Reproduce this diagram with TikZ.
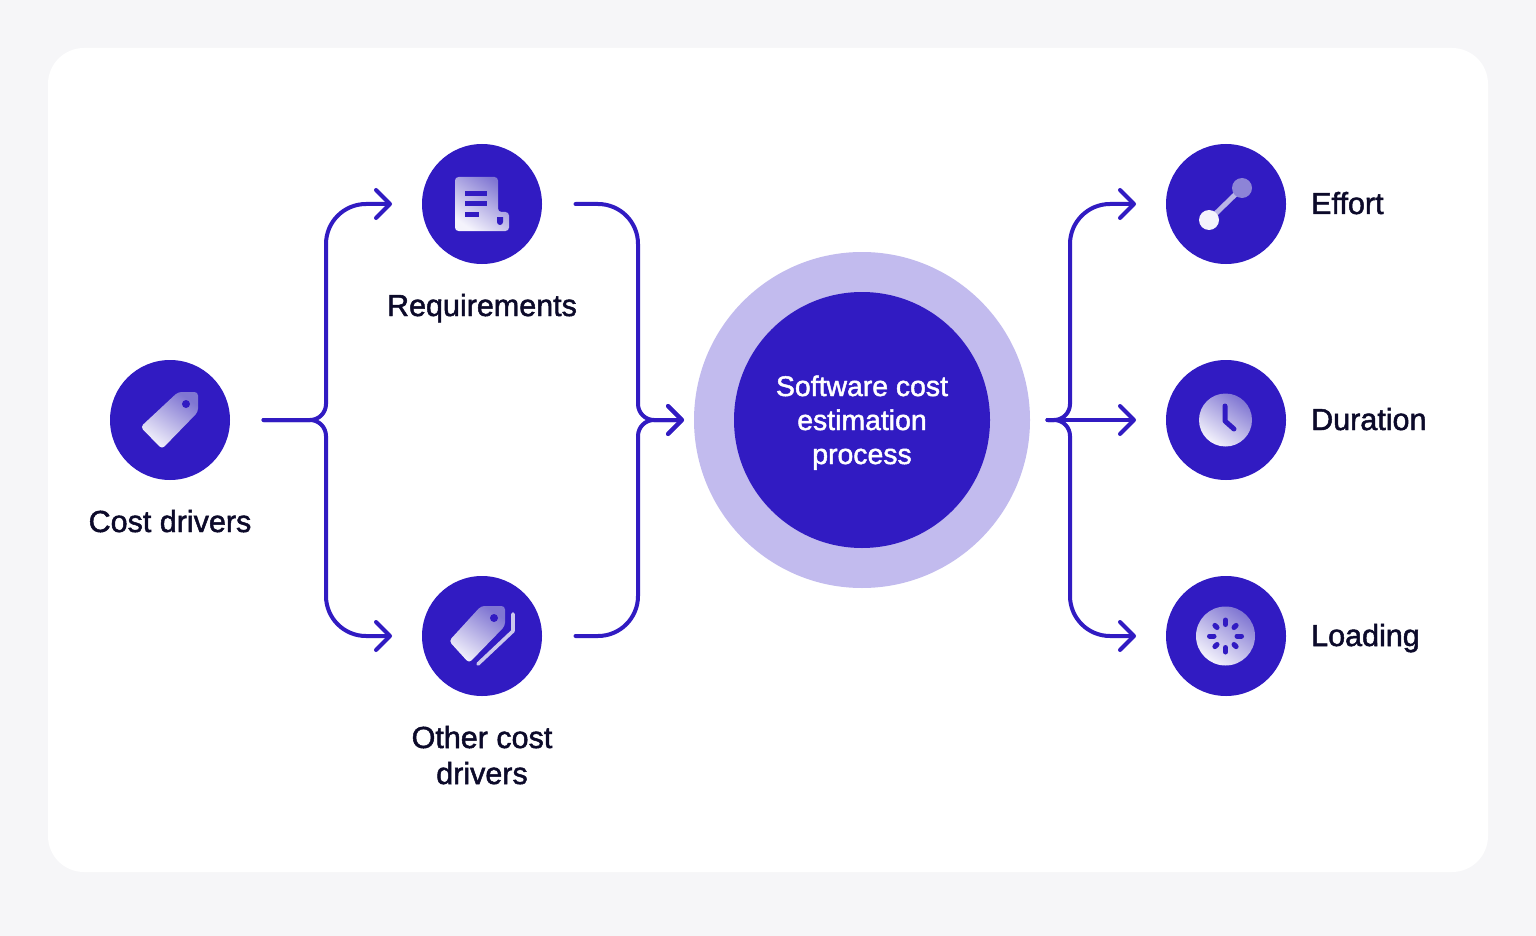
\documentclass[tikz,border=0pt]{standalone}
\usepackage{fontspec}
\setmainfont[FakeBold=1.6]{Liberation Sans}
\usetikzlibrary{arrows.meta,calc}
\definecolor{bgc}{HTML}{F6F6F8}
\definecolor{ind}{HTML}{311BC2}
\definecolor{ringc}{HTML}{C2BBEE}
\definecolor{inkc}{HTML}{0C0A2A}
\definecolor{gradlo}{HTML}{F4F3FC}
\definecolor{gradhi}{HTML}{8076D2}
\tikzset{
  x=1pt,y=-1pt,
  disc/.style={circle,fill=ind,minimum size=120pt,inner sep=0pt,outer sep=0pt},
  lbl/.style={text=inkc,font=\fontsize{30.5}{36}\selectfont,align=center,inner sep=0pt,anchor=base},
  lblL/.style={text=inkc,font=\fontsize{30.5}{36}\selectfont,inner sep=0pt,anchor=base west},
  ctr/.style={text=white,font=\fontsize{28.4}{34}\selectfont,align=center,inner sep=0pt,anchor=base},
  conn/.style={draw=ind,line width=4pt,line cap=round},
  arr/.style={conn,-{Straight Barb[length=14pt,width=28pt,round]}},
  grad/.style={top color=gradhi,bottom color=gradlo,shading angle=-35},
  hole/.style={fill=ind},
  glyphline/.style={draw=ind,line width=5pt,line cap=round,line join=round},
}
\begin{document}
\begin{tikzpicture}
\useasboundingbox (0,0) rectangle (1536,936);
\fill[bgc] (0,0) rectangle (1536,936);
\fill[white,rounded corners=36pt] (48,48) rectangle (1488,872);

% nodes
\node[circle,fill=ringc,minimum size=336pt,inner sep=0pt,outer sep=0pt] (ring) at (862,420) {};
\node[circle,fill=ind,minimum size=256pt,inner sep=0pt,outer sep=0pt] (core) at (862,420) {};
\node[ctr] (coretext) at (862,464) {Software cost\\estimation\\process};
\node[disc] (cd) at (170,420) {};
\node[disc] (req) at (482,204) {};
\node[disc] (ocd) at (482,636) {};
\node[disc] (eff) at (1226,204) {};
\node[disc] (dur) at (1226,420) {};
\node[disc] (loa) at (1226,636) {};
\node[lbl] (cdl) at (170,532) {Cost drivers};
\node[lbl] (reql) at (482,316) {Requirements};
\node[lbl] (ocdl) at (482,784) {Other cost\\drivers};
\node[lblL] (effl) at (1311,214) {Effort};
\node[lblL] (durl) at (1311,430) {Duration};
\node[lblL] (loal) at (1311,646) {Loading};

% connector ends
\coordinate (cdo) at ($(cd.east)+(33.5,0)$);
\coordinate (reqi) at ($(req.west)+(-30,0)$);
\coordinate (ocdi) at ($(ocd.west)+(-30,0)$);
\coordinate (reqo) at ($(req.east)+(33.5,0)$);
\coordinate (ocdo) at ($(ocd.east)+(33.5,0)$);
\coordinate (ringi) at ($(ring.west)+(-10,0)$);
\coordinate (ringo) at ($(ring.east)+(17.5,0)$);
\coordinate (effi) at ($(eff.west)+(-30,0)$);
\coordinate (duri) at ($(dur.west)+(-30,0)$);
\coordinate (loai) at ($(loa.west)+(-30,0)$);

% connectors
\path[arr] (cdo) -- (310,420) arc[start angle=90,end angle=0,radius=16] -- (326,244) arc[start angle=180,end angle=270,radius=40] -- (reqi);
\path[arr] (cdo) -- (310,420) arc[start angle=-90,end angle=0,radius=16] -- (326,596) arc[start angle=180,end angle=90,radius=40] -- (ocdi);
\path[arr] (reqo) -- (598,204) arc[start angle=-90,end angle=0,radius=40] -- (638,404) arc[start angle=180,end angle=90,radius=16] -- (ringi);
\path[arr] (ocdo) -- (598,636) arc[start angle=90,end angle=0,radius=40] -- (638,436) arc[start angle=180,end angle=270,radius=16] -- (ringi);
\path[arr] (ringo) -- (1054,420) arc[start angle=90,end angle=0,radius=16] -- (1070,244) arc[start angle=180,end angle=270,radius=40] -- (effi);
\path[arr] (ringo) -- (duri);
\path[arr] (ringo) -- (1054,420) arc[start angle=-90,end angle=0,radius=16] -- (1070,596) arc[start angle=180,end angle=90,radius=40] -- (loai);

% tag icon
\shade[grad,rounded corners=3.5pt] (178,392) -- (198,392) -- (198,412) -- (162,449) -- (140.5,427) -- cycle;
\fill[hole] (186,404) circle (4);

% document icon
\shade[grad,rounded corners=3.5pt] (455,177) -- (498,177) -- (498,212) -- (509,212) -- (509,231) -- (455,231) -- cycle;
\fill[hole] (465,191) rectangle (487,196);
\fill[hole] (465,201.5) rectangle (487,206.5);
\fill[hole] (465,212) rectangle (479,217);
\fill[hole] (497,217) -- (503,217) -- (503,222) arc[start angle=0,end angle=180,radius=3] -- cycle;

% double tag icon
\shade[grad,rounded corners=3.5pt] (481,606) -- (505,606) -- (505,626) -- (469,663) -- (449,641) -- cycle;
\fill[hole] (494,618) circle (4);
\draw[gradlo!65!gradhi,line width=3.6pt,line cap=round,line join=round] (513,614) -- (513,631) -- (478,664);

% effort icon
\draw[line width=5pt,color=gradhi!55!white] (1209,220) -- (1242,188);
\fill[color=gradhi!90!white] (1242,188) circle (10);
\fill[color=gradlo] (1209,220) circle (10);

% clock icon
\shade[grad] (1225.5,420) circle (26.5);
\draw[glyphline] (1225,406) -- (1225,421) -- (1234,429);

% loading icon
\shade[grad] (1225.5,636) circle (29.5);
\foreach \a in {0,90,180,270}
  \draw[glyphline] ($(1225.5,636)+(\a:11.5)$) -- ($(1225.5,636)+(\a:16)$);
\foreach \a in {45,135,225,315}
  \draw[glyphline] ($(1225.5,636)+(\a:12)$) -- ($(1225.5,636)+(\a:15)$);
\end{tikzpicture}
\end{document}
